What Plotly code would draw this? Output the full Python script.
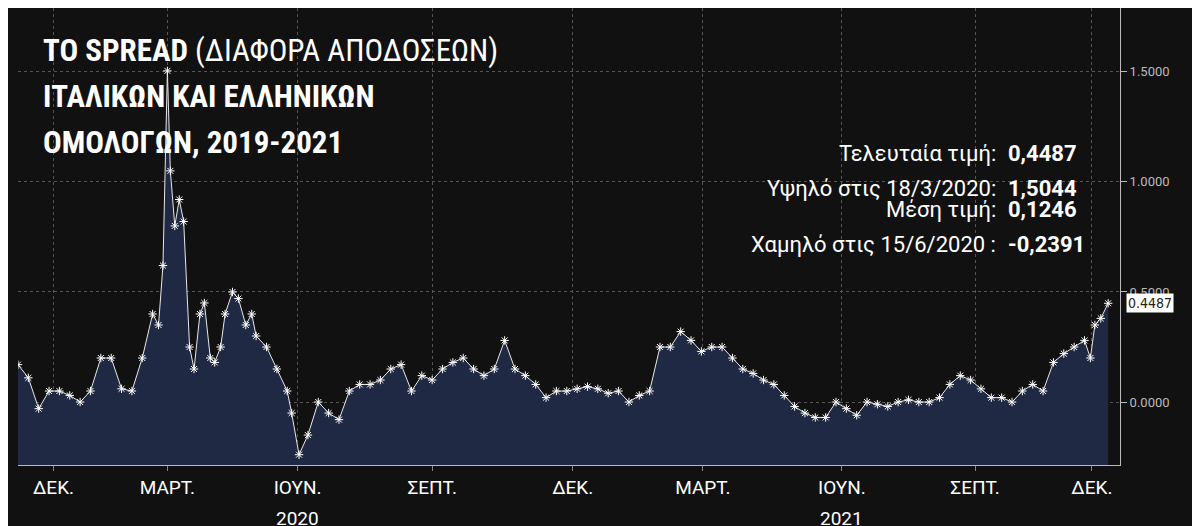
import plotly.graph_objects as go

dates = ["2019-12-08","2019-12-15","2019-12-22","2019-12-29","2020-01-05","2020-01-12","2020-01-19","2020-01-26",
"2020-02-02","2020-02-09","2020-02-16","2020-02-23","2020-03-01","2020-03-08","2020-03-12","2020-03-15","2020-03-18",
"2020-03-20","2020-03-23","2020-03-26","2020-03-29","2020-04-02","2020-04-05","2020-04-09","2020-04-12","2020-04-16",
"2020-04-19","2020-04-23","2020-04-26","2020-05-01","2020-05-05","2020-05-10","2020-05-14","2020-05-17","2020-05-24",
"2020-05-31","2020-06-07","2020-06-10","2020-06-15","2020-06-21","2020-06-28","2020-07-05","2020-07-12","2020-07-19",
"2020-07-26","2020-08-02","2020-08-09","2020-08-16","2020-08-23","2020-08-30","2020-09-06","2020-09-13","2020-09-20",
"2020-09-27","2020-10-04","2020-10-11","2020-10-18","2020-10-25","2020-11-01","2020-11-08","2020-11-15","2020-11-22",
"2020-11-29","2020-12-06","2020-12-13","2020-12-20","2020-12-27","2021-01-03","2021-01-10","2021-01-17","2021-01-24",
"2021-01-31","2021-02-07","2021-02-14","2021-02-21","2021-02-28","2021-03-07","2021-03-14","2021-03-21","2021-03-28",
"2021-04-04","2021-04-11","2021-04-18","2021-04-25","2021-05-02","2021-05-09","2021-05-16","2021-05-23","2021-05-30",
"2021-06-06","2021-06-13","2021-06-20","2021-06-27","2021-07-04","2021-07-11","2021-07-18","2021-07-25","2021-08-01",
"2021-08-08","2021-08-15","2021-08-22","2021-08-29","2021-09-05","2021-09-12","2021-09-19","2021-09-26","2021-10-03",
"2021-10-10","2021-10-17","2021-10-24","2021-10-31","2021-11-07","2021-11-14","2021-11-21","2021-11-28","2021-12-02",
"2021-12-05","2021-12-09","2021-12-14"]
spread = [0.17,0.11,-0.03,0.05,0.05,0.03,0.00,0.05,
0.20,0.20,0.06,0.05,0.20,0.40,0.35,0.62,1.5044,
1.05,0.80,0.92,0.82,0.25,0.15,0.40,0.45,0.20,
0.18,0.25,0.40,0.50,0.47,0.35,0.40,0.30,0.25,
0.15,0.05,-0.05,-0.2391,-0.15,0.00,-0.05,-0.08,0.05,
0.08,0.08,0.10,0.15,0.17,0.05,0.12,0.10,0.15,
0.18,0.20,0.15,0.12,0.15,0.28,0.15,0.12,0.08,
0.02,0.05,0.05,0.06,0.07,0.06,0.04,0.05,0.00,
0.03,0.05,0.25,0.25,0.32,0.28,0.23,0.25,0.25,
0.20,0.15,0.13,0.10,0.08,0.03,-0.02,-0.05,-0.07,
-0.07,0.00,-0.03,-0.06,0.00,-0.01,-0.02,0.00,0.01,
0.00,0.00,0.02,0.08,0.12,0.10,0.06,0.02,0.02,
0.00,0.05,0.08,0.05,0.18,0.22,0.25,0.28,0.20,
0.35,0.38,0.4487]

tick_dates = ["2020-01-01","2020-03-18","2020-06-14","2020-09-13","2020-12-17",
              "2021-03-15","2021-06-17","2021-09-15","2021-12-03"]
tick_labels = ["ΔΕΚ.","ΜΑΡΤ.","ΙΟΥΝ.","ΣΕΠΤ.","ΔΕΚ.","ΜΑΡΤ.","ΙΟΥΝ.","ΣΕΠΤ.","ΔΕΚ."]
year_dates = ["2020-06-14","2021-06-17"]
year_labels = ["2020","2021"]
y_ticks = [0, 0.5, 1.0, 1.5]
y_min, y_max = -0.286, 1.79

stat_labels = ["Τελευταία τιμή:","Υψηλό στις 18/3/2020:","Μέση τιμή:","Χαμηλό στις 15/6/2020 :"]
stat_values = ["0,4487","1,5044","0,1246","-0,2391"]

fig = go.Figure()
fig.add_trace(go.Scatter(x=dates, y=[y_min]*len(dates), mode="lines", line=dict(width=0),
                         hoverinfo="skip"))
fig.add_trace(go.Scatter(x=dates, y=spread, mode="lines+markers", fill="tonexty",
    fillcolor="#1f2944", line=dict(color="#e8e8e8", width=1),
    marker=dict(symbol="asterisk-open", size=7, color="white", line=dict(color="white", width=1))))

fig.update_layout(
    width=1200, height=526, margin=dict(l=0, r=0, t=0, b=0),
    paper_bgcolor="#111111", plot_bgcolor="#111111", showlegend=False,
    font=dict(family="Roboto", color="white"),
    xaxis=dict(domain=[10/1200, 1112/1200], range=["2019-12-08", "2021-12-22"],
        tickvals=tick_dates, ticktext=tick_labels, tickfont=dict(size=19, color="white"),
        showgrid=True, gridcolor="#555", griddash="dot", gridwidth=1,
        showline=True, linecolor="#bbbbbb", ticks="outside", ticklen=5, tickcolor="#888", zeroline=False),
    yaxis=dict(domain=[1-457/526, 1], range=[y_min, y_max], side="right",
        tickvals=y_ticks, tickformat=".4f", tickfont=dict(size=13, color="#bbbbbb"),
        showgrid=True, gridcolor="#555", griddash="dot", zeroline=False,
        showline=True, linecolor="#bbbbbb", ticks="outside", ticklen=6, tickcolor="#bbbbbb"),
)

for d, t in zip(year_dates, year_labels):
    fig.add_annotation(x=d, y=0, yref="paper", text=t, showarrow=False,
                       font=dict(size=19, color="white"), yanchor="bottom", yshift=2)

fig.add_annotation(x=1118/1200, xref="paper", y=spread[-1], text="0.4487", showarrow=False,
    xanchor="left", bgcolor="white", font=dict(size=14, color="#222", family="DejaVu Sans Condensed"),
    borderpad=1)

title = ["<b>ΤΟ SPREAD</b> (ΔΙΑΦΟΡΑ ΑΠΟΔΟΣΕΩΝ)", "<b>ΙΤΑΛΙΚΩΝ ΚΑΙ ΕΛΛΗΝΙΚΩΝ</b>", "<b>ΟΜΟΛΟΓΩΝ, 2019-2021</b>"]
for i, t in enumerate(title):
    fig.add_annotation(x=33/1200, xref="paper", y=1-(42+i*46)/526, yref="paper", text=t,
        showarrow=False, xanchor="left", yanchor="middle",
        font=dict(size=31, color="white", family="Roboto Condensed, Roboto"))

for i, (l, v) in enumerate(zip(stat_labels, stat_values)):
    yy = 1-(131+i*35)/526
    fig.add_annotation(x=990/1200, xref="paper", y=yy, yref="paper", text=l, showarrow=False,
        xanchor="right", font=dict(size=22, color="white"))
    fig.add_annotation(x=998/1200, xref="paper", y=yy, yref="paper", text="<b>"+v+"</b>", showarrow=False,
        xanchor="left", font=dict(size=22, color="white"))

fig.write_html("out.html")
